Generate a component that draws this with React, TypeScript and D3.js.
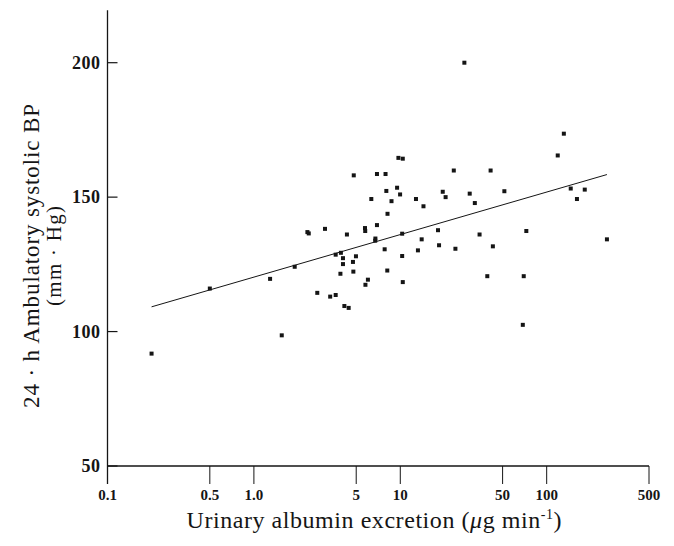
import React from 'react'
import * as d3 from 'd3'

// urinary albumin excretion (ug/min), log scale
const albumin = [
  0.2, 0.5, 1.29, 1.55, 1.9, 2.32, 2.37, 2.71, 3.06, 3.32, 3.62, 3.62,
  3.93, 4.06, 4.06, 3.9, 4.15, 4.44, 4.32, 4.81, 4.75, 4.78, 4.98, 5.74,
  5.76, 5.78, 6.01, 6.34, 6.74, 6.76, 6.93, 6.93, 7.82, 7.93, 8.03, 8.15,
  8.18, 8.71, 9.51, 9.71, 9.97, 10.4, 10.3, 10.3, 10.4, 12.8, 13.2, 14.0,
  14.4, 18.1, 18.4, 19.5, 20.4, 23.2, 23.8, 27.4, 29.8, 32.3, 34.8, 39.3,
  41.4, 42.9, 51.4, 68.7, 69.7, 72.6, 119, 131, 146, 161, 182, 258
]

// 24 h ambulatory systolic BP (mm Hg)
const systolicBP = [
  91.8, 116.0, 119.6, 98.6, 124.1, 137.0, 136.5, 114.4, 138.2, 113.0, 113.6, 128.6,
  129.3, 127.3, 125.1, 121.5, 109.5, 108.8, 136.1, 158.1, 125.9, 122.3, 128.0, 138.5,
  137.4, 117.4, 119.3, 149.3, 133.8, 134.6, 139.6, 158.6, 130.6, 158.6, 152.3, 122.7,
  143.8, 148.5, 153.5, 164.6, 151.0, 164.3, 136.4, 128.1, 118.4, 149.3, 130.2, 134.3,
  146.6, 137.7, 132.1, 152.0, 150.0, 159.9, 130.8, 200.0, 151.3, 147.8, 136.1, 120.6,
  159.9, 131.7, 152.2, 102.5, 120.6, 137.4, 165.5, 173.6, 153.2, 149.3, 152.8, 134.3
]

// regression line end points
const fitX = [0.2, 258]
const fitY = [109.2, 158.4]

const xTicks = [0.1, 0.5, 1, 5, 10, 50, 100, 500]
const xTickLabels = ['0.1', '0.5', '1.0', '5', '10', '50', '100', '500']
const yTicks = [50, 100, 150, 200]

const serif = '"Liberation Serif", "DejaVu Serif", serif'
const ink = '#151515'

export default function App() {
  const width = 674
  const height = 546

  const x = d3.scaleLog().domain([0.1, 500]).range([107.5, 649])
  const y = d3.scaleLinear().domain([50, 200]).range([466, 62.7])

  const fitLine = d3.line<number>()
    .x((d) => x(d))
    .y((d, i) => y(fitY[i]))

  const points = albumin.map((a, i) => ({ a, bp: systolicBP[i] }))

  return (
    <svg
      width={width}
      height={height}
      style={{ position: 'absolute', left: 0, top: 0, background: '#fff' }}
    >
      {/* axes */}
      <line x1={x(0.1)} x2={x(0.1)} y1={y(219.5)} y2={484} stroke={ink} strokeWidth={1.3} />
      <line x1={x(0.1)} x2={x(500)} y1={y(50)} y2={y(50)} stroke={ink} strokeWidth={1.4} />

      {yTicks.map((t) => (
        <g key={t}>
          <line x1={x(0.1)} x2={x(0.1) + 10} y1={y(t)} y2={y(t)} stroke={ink} strokeWidth={1.2} />
          <text
            x={100.5}
            y={y(t)}
            dy="0.35em"
            textAnchor="end"
            fontFamily={serif}
            fontWeight="bold"
            fontSize={18}
            letterSpacing={0.5}
            fill={ink}
          >
            {t}
          </text>
        </g>
      ))}

      {xTicks.map((t, i) => (
        <g key={t}>
          <line x1={x(t)} x2={x(t)} y1={y(50)} y2={484} stroke={ink} strokeWidth={1} />
          <text
            x={x(t)}
            y={500}
            textAnchor="middle"
            fontFamily={serif}
            fontWeight="bold"
            fontSize={15}
            fill={ink}
          >
            {xTickLabels[i]}
          </text>
        </g>
      ))}

      {/* regression line */}
      <path d={fitLine(fitX) || ''} fill="none" stroke={ink} strokeWidth={1} />

      {/* data points */}
      {points.map((p, i) => (
        <rect
          key={i}
          x={x(p.a) - 2}
          y={y(p.bp) - 2}
          width={4}
          height={4}
          fill={ink}
        />
      ))}

      {/* axis titles */}
      <text
        transform="translate(39,256) rotate(-90)"
        textAnchor="middle"
        fontFamily={serif}
        fontSize={23}
        textLength={304}
        lengthAdjust="spacing"
        fill={ink}
      >
        24 · h Ambulatory systolic BP
      </text>
      <text
        transform="translate(61,256) rotate(-90)"
        textAnchor="middle"
        fontFamily={serif}
        fontSize={21}
        textLength={100}
        lengthAdjust="spacing"
        fill={ink}
      >
        (mm · Hg)
      </text>

      <text
        x={374}
        y={528}
        textAnchor="middle"
        fontFamily={serif}
        fontSize={24}
        fill={ink}
        textLength={375}
        lengthAdjust="spacing"
      >
        Urinary albumin excretion (<tspan fontStyle="italic">μ</tspan>g min
        <tspan fontSize={14} dy={-9}>-1</tspan>
        <tspan dy={9}>)</tspan>
      </text>
    </svg>
  )
}
